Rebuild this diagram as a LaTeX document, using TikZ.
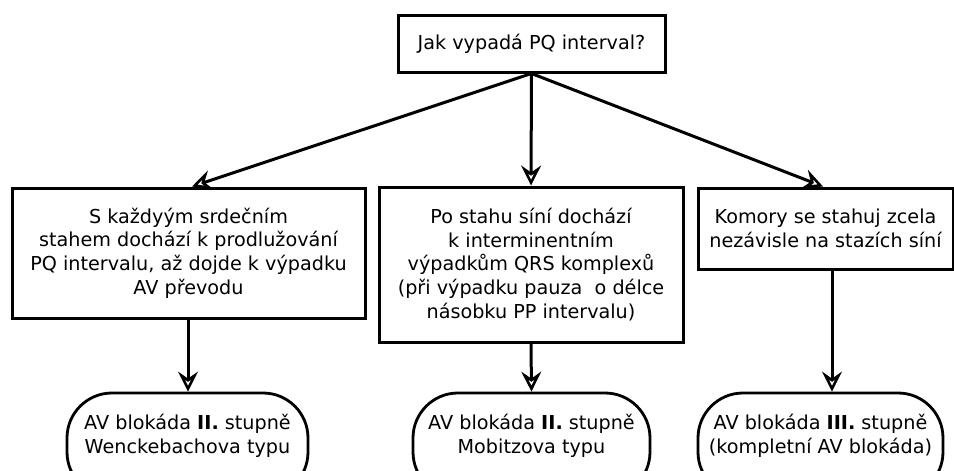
\documentclass[tikz,border=0pt]{standalone}
\usepackage{fontspec}
\setmainfont{DejaVu Sans}
\usetikzlibrary{arrows.meta}
\begin{document}
\begin{tikzpicture}[x=1pt,y=-1pt,
  txt/.style={align=center, inner sep=0pt, font=\fontsize{19.2}{23.7}\selectfont},
  box/.style={txt, draw, line width=3pt},
  stadium/.style={draw, line width=2.8pt, rounded corners=45pt, minimum height=104pt},
  arr/.style={line width=3pt, -{Stealth[open, length=20pt, width=20pt, inset=7pt, line width=2.6pt]}}]
\useasboundingbox (0,0) rectangle (954,471);

% question
\node[box, minimum width=267pt, minimum height=57pt] (q) at (531.5,43.5) {Jak vypadá PQ interval?};

% three observations
\node[box, minimum width=353pt, minimum height=130pt] (b1) at (188.5,253)
  {S každyým srdečním\\stahem dochází k prodlužování\\PQ intervalu, až dojde k výpadku\\AV převodu};
\node[box, minimum width=304pt, minimum height=155pt] (b2) at (531,264.5)
  {Po stahu síní dochází\\k interminentním\\výpadkům QRS komplexů\\(při výpadku pauza\ \ o délce\\násobku PP intervalu)};
\node[box, minimum width=255pt, minimum height=81pt] (b3) at (825.5,228.5)
  {Komory se stahuj zcela\\nezávisle na stazích síní};

% diagnoses
\node[stadium, minimum width=241pt] (s1) at (187.5,445) {};
\node[txt] (t1) at (187.5,436) {AV blokáda \textbf{II.} stupně\\Wenckebachova typu};
\node[stadium, minimum width=237pt] (s2) at (531.5,445) {};
\node[txt] (t2) at (531.5,436) {AV blokáda \textbf{II.} stupně\\Mobitzova typu};
\node[stadium, minimum width=245pt] (s3) at (820.5,445) {};
\node[txt] (t3) at (820.5,436) {AV blokáda \textbf{III.} stupně\\(kompletní AV blokáda)};

% connectors
\coordinate (a1) at (192,0);
\coordinate (a3) at (823,0);
\coordinate (d1) at (188,0);
\coordinate (d3) at (832,0);
\draw[arr] (q.south) -- (b1.north -| a1);
\draw[arr] (q.south) -- (b2.north);
\draw[arr] (q.south) -- (b3.north -| a3);
\draw[arr] (b1.south -| d1) -- (s1.north -| d1);
\draw[arr] (b2.south) -- (s2.north);
\draw[arr] (b3.south -| d3) -- (s3.north -| d3);
\end{tikzpicture}
\end{document}
